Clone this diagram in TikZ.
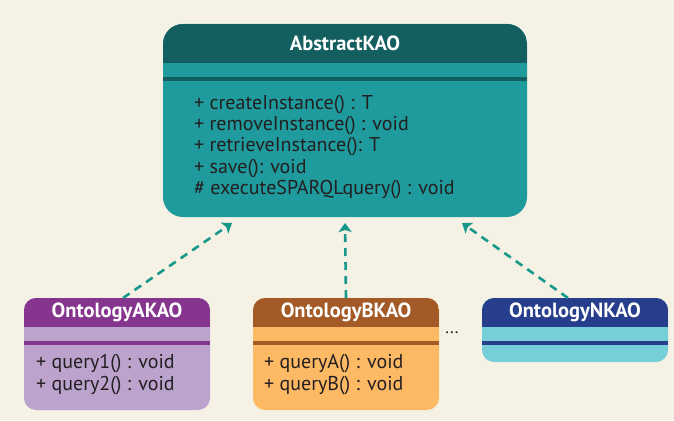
\documentclass[tikz,border=0pt]{standalone}
\usepackage{fontspec}
\setmainfont{PT Sans}
\usepackage{xcolor}
\usetikzlibrary{arrows.meta, positioning}

\definecolor{bgcream}{HTML}{F5F1E4}
\definecolor{txtdark}{HTML}{231F20}
\definecolor{arrowteal}{HTML}{16988A}
\definecolor{absHead}{HTML}{135E5F}
\definecolor{absBody}{HTML}{1F9A9D}
\definecolor{akaoHead}{HTML}{86358F}
\definecolor{akaoBody}{HTML}{BBA3CE}
\definecolor{bkaoHead}{HTML}{A35A27}
\definecolor{bkaoBody}{HTML}{FDB964}
\definecolor{nkaoHead}{HTML}{263E8B}
\definecolor{nkaoBody}{HTML}{76CED9}

\begin{document}
\begin{tikzpicture}[
    x=1pt, y=-1pt,
    umlclass/.style n args={4}{rectangle, rounded corners=#3, fill=#2, inner sep=0pt, outer sep=0pt,
        path picture={
            \fill[#1, sharp corners] (path picture bounding box.north west) rectangle ([yshift=-#4]path picture bounding box.north east);
            \fill[#1, sharp corners] ([yshift=-#4-13.5pt]path picture bounding box.north west) rectangle ([yshift=-#4-18pt]path picture bounding box.north east);
        }},
    classname/.style={font=\fontsize{20.5}{22}\selectfont\bfseries, text=white, inner sep=0pt},
    members/.style={font=\fontsize{20}{21.2}\selectfont, text=txtdark, align=left, anchor=west, inner sep=0pt},
    arrow/.style={-{Stealth[length=9pt,width=13pt,inset=2pt]}, line width=2.6pt, dash pattern=on 8pt off 6pt, draw=arrowteal}
]
\fill[bgcream] (0,0) rectangle (674,420);
\useasboundingbox (0,0) rectangle (674,420);

% abstract class
\node[umlclass={absHead}{absBody}{20pt}{39pt}, minimum width=364pt, minimum height=193pt] (abstract) at (345,120.5) {};
\node[classname] (abstractname) at ([yshift=-19.5pt]abstract.north) {AbstractKAO};
\node[members] (abstractops) at (194,147) {+ createInstance() : T\\+ removeInstance() : void\\+ retrieveInstance(): T\\+ save(): void\\\# executeSPARQLquery() : void};

% concrete classes
\node[umlclass={akaoHead}{akaoBody}{12pt}{29pt}, minimum width=186pt, minimum height=112pt] (akao) at (117,354) {};
\node[classname] (akaoname) at ([yshift=-14.5pt]akao.north) {OntologyAKAO};
\node[members] (akaoops) at (36,374.5) {+ query1() : void\\+ query2() : void};

\node[umlclass={bkaoHead}{bkaoBody}{12pt}{29pt}, minimum width=186pt, minimum height=112pt] (bkao) at (346,354) {};
\node[classname] (bkaoname) at ([yshift=-14.5pt]bkao.north) {OntologyBKAO};
\node[members] (bkaoops) at (264,374.5) {+ queryA() : void\\+ queryB() : void};

\node[font=\fontsize{17}{17}\selectfont, text=txtdark] (dots) at (452,333) {...};

\node[umlclass={nkaoHead}{nkaoBody}{12pt}{29pt}, minimum width=186pt, minimum height=64pt] (nkao) at (575,330) {};
\node[classname] (nkaoname) at ([yshift=-14.5pt]nkao.north) {OntologyNKAO};

% realisation arrows
\draw[arrow] ([xshift=6pt]akao.north) -- ([xshift=-113pt,yshift=-6pt]abstract.south);
\draw[arrow] (bkao.north) -- ([yshift=-6pt]abstract.south);
\draw[arrow] ([xshift=-7pt]nkao.north) -- ([xshift=117pt,yshift=-6pt]abstract.south);
\end{tikzpicture}
\end{document}
